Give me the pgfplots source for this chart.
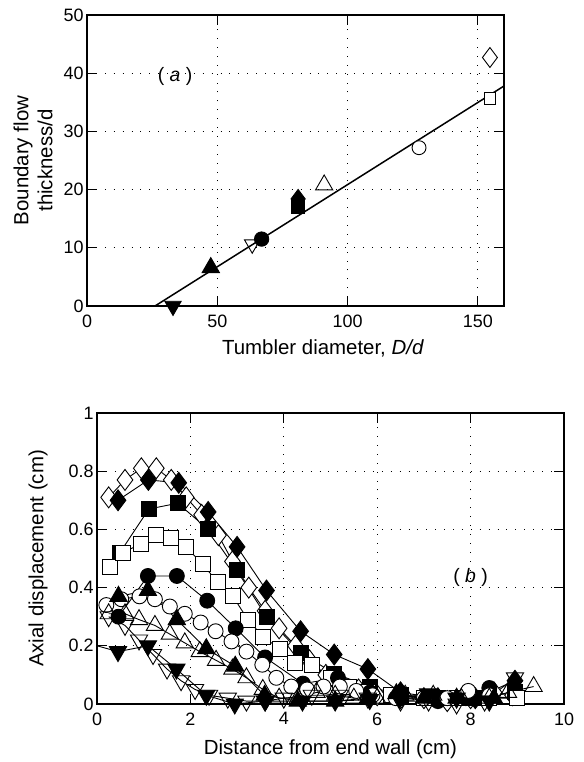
\documentclass[border=0pt]{standalone}
\usepackage{fontspec}
\setmainfont{Liberation Sans}
\usepackage{pgfplots}
\pgfplotsset{compat=1.18}
\begin{document}
\begin{tikzpicture}
\path[use as bounding box] (0,0) rectangle (584bp,762bp);
\pgfplotsset{
  every axis/.append style={
    scale only axis,
    axis line style={line width=1.6bp},
    tick style={line width=0.9bp, black},
    major tick length=10bp,
    tick align=inside,
    grid=major,
    major grid style={black, line width=0.9bp, dash pattern=on 0.9bp off 8bp},
    tick label style={font=\fontsize{18}{18}\selectfont},
    xticklabel style={yshift=-5bp},
    label style={font=\fontsize{20.5}{24}\selectfont},
    /pgf/number format/assume math mode=true,
    clip=false,
    anchor=south west,
  },
  op/.style={black, line width=0.9bp, mark options={solid, fill=white, draw=black}},
  fp/.style={black, line width=0.9bp, mark options={solid, fill=black, draw=black}},
}
% ---------------- panel (a)
\begin{axis}[at={(87bp,456bp)}, width=417bp, height=291bp,
  xmin=0, xmax=160, ymin=0, ymax=50,
  xtick={0,50,100,150}, ytick={0,10,20,30,40,50},
  xlabel={Tumbler diameter, \textit{D/d}},
  ylabel={Boundary flow\\thickness/d},
  ylabel style={align=center, at={(axis description cs:-0.1295,0.5)}, anchor=center},
  xlabel style={at={(axis description cs:0.566,-0.168)}, anchor=base},
]
\addplot[black, line width=1.5bp, no marks] coordinates {(26.1,0) (160,37.8)};
\addplot[fp, only marks, mark=triangle*, mark size=9.5, mark options={rotate=180}] coordinates {(33,0)};
\addplot[fp, only marks, mark=triangle*, mark size=10] coordinates {(47.5,6.6)};
\addplot[op, only marks, mark=triangle, mark size=9, mark options={rotate=180}] coordinates {(63.4,10.6)};
\addplot[fp, only marks, mark=*, mark size=7.2] coordinates {(67,11.5)};
\addplot[fp, only marks, mark=square*, mark size=6.2] coordinates {(81,17)};
\addplot[fp, only marks, mark=diamond*, mark size=9.5] coordinates {(81,18.4)};
\addplot[op, only marks, mark=triangle, mark size=10] coordinates {(91,20.8)};
\addplot[op, only marks, mark=*, mark size=7] coordinates {(127.4,27.2)};
\addplot[op, only marks, mark=square*, mark size=6] coordinates {(154.6,35.7)};
\addplot[op, only marks, mark=diamond*, mark size=10] coordinates {(154.6,42.7)};
\node[font=\fontsize{19.5}{22}\selectfont] at (axis cs:33.8,39.5) {( \textit{a} )};
\end{axis}
% ---------------- panel (b)
\begin{axis}[at={(97bp,58bp)}, width=467bp, height=291bp,
  xmin=0, xmax=10, ymin=0, ymax=1,
  xtick={0,2,4,6,8,10}, ytick={0,0.2,0.4,0.6,0.8,1},
  xlabel={Distance from end wall (cm)},
  ylabel={Axial displacement (cm)},
  ylabel style={at={(axis description cs:-0.126,0.5)}, anchor=center},
  xlabel style={at={(axis description cs:0.5,-0.174)}, anchor=base},
]
% open diamond
\addplot[op, mark=diamond*, mark size=10.5] coordinates {
(0.25,0.71) (0.6,0.77) (0.95,0.81) (1.27,0.81) (1.59,0.77) (1.91,0.71) (2.24,0.65) (2.6,0.58) (2.9,0.49) (3.25,0.40) (3.6,0.32) (3.9,0.26) (4.25,0.20) (4.55,0.15) (4.9,0.10) (5.25,0.07) (5.6,0.05) (6.0,0.03) (6.5,0.02) (7.0,0.02) (7.5,0.01) (8.0,0.02) (8.5,0.04) (8.9,0.03)};
% filled diamond
\addplot[fp, mark=diamond*, mark size=10.5] coordinates {
(0.45,0.70) (1.1,0.77) (1.75,0.76) (2.38,0.66) (3.0,0.54) (3.63,0.39) (4.36,0.25) (5.08,0.17) (5.8,0.12) (6.5,0.04) (7.3,0.02) (8.1,0.02) (8.95,0.08)};
% filled square
\addplot[fp, mark=square*, mark size=7.5] coordinates {
(0.49,0.52) (1.11,0.67) (1.73,0.69) (2.38,0.60) (2.99,0.46) (3.63,0.30) (4.36,0.175) (5.08,0.105) (5.84,0.06) (6.5,0.03) (7.3,0.02) (8.1,0.02) (8.95,0.04)};
% open square
\addplot[op, mark=square*, mark size=7.5] coordinates {
(0.27,0.47) (0.55,0.52) (0.94,0.55) (1.26,0.58) (1.59,0.57) (1.91,0.54) (2.26,0.48) (2.58,0.42) (2.91,0.37) (3.23,0.29) (3.56,0.23) (3.91,0.19) (4.23,0.14) (4.6,0.135) (5.0,0.09) (5.4,0.06) (5.8,0.04) (6.3,0.03) (7.0,0.02) (7.7,0.02) (8.4,0.02) (9.0,0.02)};
% filled circle
\addplot[fp, mark=*, mark size=7.5] coordinates {
(0.46,0.30) (1.09,0.44) (1.71,0.44) (2.36,0.355) (2.97,0.26) (3.6,0.16) (4.41,0.07) (5.16,0.09) (5.85,0.04) (6.5,0.02) (7.3,0.01) (7.9,0.02) (8.4,0.055)};
% open circle
\addplot[op, mark=*, mark size=7.5] coordinates {
(0.2,0.34) (0.52,0.36) (0.91,0.37) (1.24,0.36) (1.56,0.335) (1.88,0.31) (2.22,0.28) (2.54,0.25) (2.88,0.215) (3.2,0.18) (3.54,0.135) (3.84,0.09) (4.16,0.06) (4.5,0.05) (4.85,0.06) (5.2,0.06) (5.55,0.045) (5.9,0.03) (6.4,0.02) (7.0,0.02) (7.5,0.02) (7.95,0.045) (8.4,0.03)};
% filled triangle up
\addplot[fp, mark=triangle*, mark size=10] coordinates {
(0.46,0.37) (1.09,0.39) (1.71,0.29) (2.34,0.19) (2.96,0.13) (3.59,0.03) (4.3,0.01) (5.1,0.01) (5.8,0.02) (6.41,0.035) (7.0,0.02) (7.7,0.02) (8.5,0.02)};
% open triangle up
\addplot[op, mark=triangle, mark size=10] coordinates {
(0.25,0.31) (0.6,0.31) (0.9,0.29) (1.24,0.27) (1.56,0.24) (1.88,0.21) (2.2,0.18) (2.55,0.15) (2.9,0.12) (3.2,0.09) (3.55,0.05) (3.9,0.02) (4.3,0.02) (4.7,0.04) (5.1,0.03) (5.5,0.02) (6.0,0.02) (6.6,0.03) (7.2,0.03) (7.8,0.02) (8.4,0.02) (8.8,0.04) (9.35,0.06)};
% open triangle down
\addplot[op, mark=triangle, mark size=10, mark options={rotate=180}] coordinates {
(0.25,0.30) (0.6,0.27) (0.9,0.22) (1.2,0.17) (1.5,0.12) (1.8,0.08) (2.1,0.05) (2.4,0.03) (2.8,0.02) (3.2,0.01) (3.6,0.01) (4.0,0.02) (4.6,0.03) (5.2,0.03) (5.8,0.02) (6.5,0.01) (7.1,0.01) (7.7,0.0) (8.3,0.01) (8.95,0.09)};
% filled triangle down
\addplot[black, line width=0.9bp, no marks] coordinates {(0,0.2) (0.45,0.18)};
\addplot[fp, mark=triangle*, mark size=10, mark options={rotate=180}] coordinates {
(0.45,0.18) (1.09,0.20) (1.7,0.12) (2.34,0.03) (2.95,0.0) (3.6,0.01) (4.4,0.01) (5.1,0.01) (5.84,0.015) (6.48,0.02) (7.09,0.035) (7.7,0.02) (8.4,0.01)};
\node[font=\fontsize{19.5}{22}\selectfont] at (axis cs:8.0,0.435) {( \textit{b} )};
\end{axis}
\end{tikzpicture}
\end{document}
